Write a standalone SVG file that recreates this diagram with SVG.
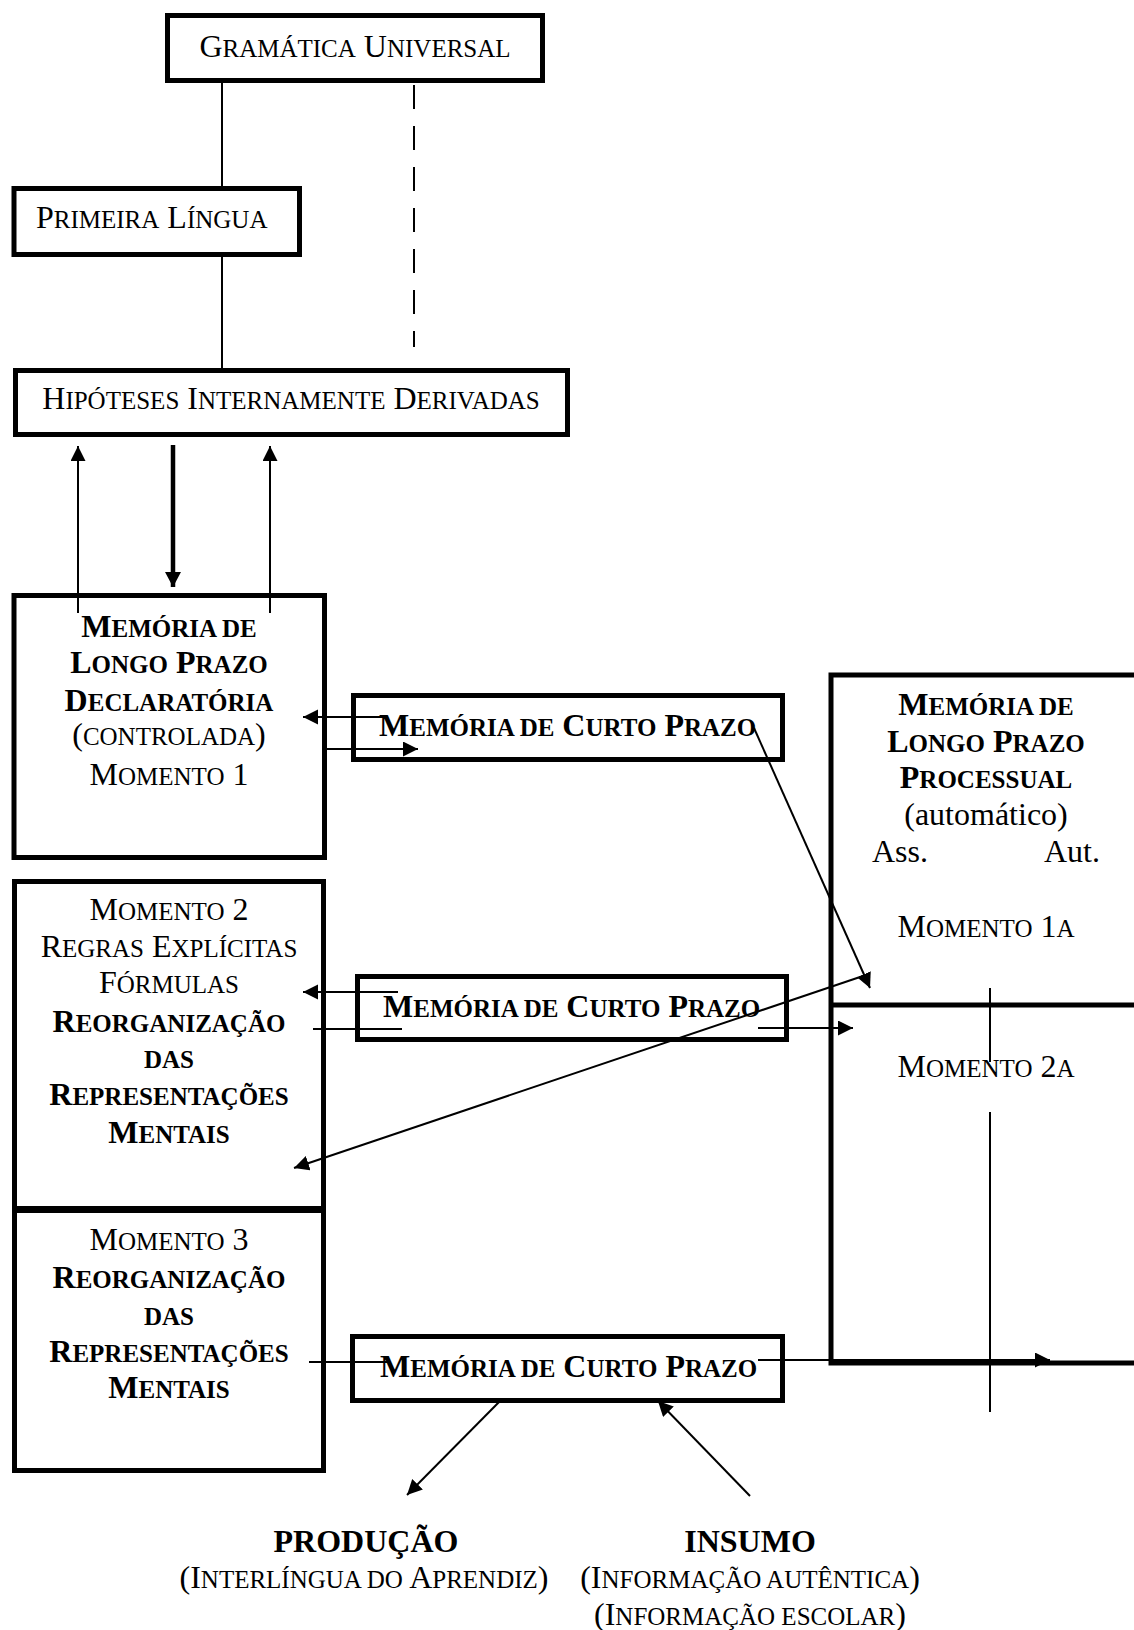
<svg xmlns="http://www.w3.org/2000/svg" width="1134" height="1630" viewBox="0 0 1134 1630">
<style>
text{font-family:"Liberation Serif","Times New Roman",serif;font-size:32px;fill:#000}
.b{font-weight:bold}
.m{text-anchor:middle}
tspan.s{font-size:25px}
.box{fill:#fff;stroke:#000;stroke-width:5}
.ln{stroke:#000;stroke-width:2;fill:none}
.thick{stroke:#000;stroke-width:4.5;fill:none}
.dash{stroke:#000;stroke-width:2;fill:none;stroke-dasharray:24 17}
</style>
<defs>
<marker id="ah" markerUnits="userSpaceOnUse" markerWidth="16" markerHeight="16" refX="15" refY="7.5" orient="auto">
<path d="M0,0 L15,7.5 L0,15 z" fill="#000"/>
</marker>
<marker id="ahb" markerUnits="userSpaceOnUse" markerWidth="17" markerHeight="17" refX="15" refY="8" orient="auto">
<path d="M0,0 L15,8 L0,16 z" fill="#000"/>
</marker>
</defs>
<rect width="1134" height="1630" fill="#fff"/>

<g id="gramatica-universal">
<rect class="box" x="167.5" y="15.5" width="375" height="65"/>
<text class="m" x="355" y="57">G<tspan class="s">RAMÁTICA</tspan> U<tspan class="s">NIVERSAL</tspan></text>
</g>

<g id="primeira-lingua">
<rect class="box" x="14" y="188.5" width="285.5" height="66"/>
<text x="36" y="228">P<tspan class="s">RIMEIRA</tspan> L<tspan class="s">ÍNGUA</tspan></text>
</g>

<g id="hipoteses">
<rect class="box" x="15.5" y="370.5" width="552" height="64"/>
<text class="m" x="291" y="409">H<tspan class="s">IPÓTESES</tspan> I<tspan class="s">NTERNAMENTE</tspan> D<tspan class="s">ERIVADAS</tspan></text>
</g>

<g id="mlp-declaratoria">
<rect class="box" x="14" y="595.5" width="310.5" height="262"/>
<text class="m b" x="169" y="637">M<tspan class="s">EMÓRIA DE</tspan></text>
<text class="m b" x="169" y="673">L<tspan class="s">ONGO</tspan> P<tspan class="s">RAZO</tspan></text>
<text class="m b" x="169" y="711">D<tspan class="s">ECLARATÓRIA</tspan></text>
<text class="m" x="169" y="745">(<tspan class="s">CONTROLADA</tspan>)</text>
<text class="m" x="169" y="785">M<tspan class="s">OMENTO</tspan> 1</text>
</g>

<g id="momento-2">
<rect class="box" x="14.5" y="881.5" width="309" height="327"/>
<text class="m" x="169" y="920">M<tspan class="s">OMENTO</tspan> 2</text>
<text class="m" x="169" y="957">R<tspan class="s">EGRAS</tspan> E<tspan class="s">XPLÍCITAS</tspan></text>
<text class="m" x="169" y="993">F<tspan class="s">ÓRMULAS</tspan></text>
<text class="m b" x="169" y="1032">R<tspan class="s">EORGANIZAÇÃO</tspan></text>
<text class="m b" x="169" y="1068"><tspan class="s">DAS</tspan></text>
<text class="m b" x="169" y="1105">R<tspan class="s">EPRESENTAÇÕES</tspan></text>
<text class="m b" x="169" y="1143">M<tspan class="s">ENTAIS</tspan></text>
</g>

<g id="momento-3">
<rect class="box" x="14.5" y="1210.5" width="309" height="260"/>
<text class="m" x="169" y="1250">M<tspan class="s">OMENTO</tspan> 3</text>
<text class="m b" x="169" y="1288">R<tspan class="s">EORGANIZAÇÃO</tspan></text>
<text class="m b" x="169" y="1325"><tspan class="s">DAS</tspan></text>
<text class="m b" x="169" y="1362">R<tspan class="s">EPRESENTAÇÕES</tspan></text>
<text class="m b" x="169" y="1398">M<tspan class="s">ENTAIS</tspan></text>
</g>

<g id="mlp-processual">
<rect class="box" x="831" y="675" width="330" height="688"/>
<line x1="831" y1="1005" x2="1140" y2="1005" stroke="#000" stroke-width="5"/>
<text class="m b" x="986" y="715">M<tspan class="s">EMÓRIA DE</tspan></text>
<text class="m b" x="986" y="752">L<tspan class="s">ONGO</tspan> P<tspan class="s">RAZO</tspan></text>
<text class="m b" x="986" y="788">P<tspan class="s">ROCESSUAL</tspan></text>
<text class="m" x="986" y="825">(automático)</text>
<text x="872" y="862">Ass.</text>
<text x="1100" y="862" text-anchor="end">Aut.</text>
<text class="m" x="986" y="937">M<tspan class="s">OMENTO</tspan> 1<tspan class="s">A</tspan></text>
<text class="m" x="986" y="1077">M<tspan class="s">OMENTO</tspan> 2<tspan class="s">A</tspan></text>
<line class="ln" x1="990" y1="988" x2="990" y2="1062"/>
<line class="ln" x1="990" y1="1112" x2="990" y2="1412"/>
</g>

<g id="mcp-1">
<rect class="box" x="353.5" y="695.5" width="429" height="64"/>
<text class="b" x="379" y="736">M<tspan class="s">EMÓRIA DE</tspan> C<tspan class="s">URTO</tspan> P<tspan class="s">RAZO</tspan></text>
</g>

<g id="mcp-2">
<rect class="box" x="357.5" y="976.5" width="429" height="63"/>
<text class="b" x="383" y="1017">M<tspan class="s">EMÓRIA DE</tspan> C<tspan class="s">URTO</tspan> P<tspan class="s">RAZO</tspan></text>
</g>

<g id="mcp-3">
<rect class="box" x="352.5" y="1336.5" width="430" height="64"/>
<text class="b" x="380" y="1377">M<tspan class="s">EMÓRIA DE</tspan> C<tspan class="s">URTO</tspan> P<tspan class="s">RAZO</tspan></text>
</g>

<g id="producao">
<text class="m b" x="366" y="1552">PRODUÇÃO</text>
<text class="m" x="364" y="1588">(I<tspan class="s">NTERLÍNGUA DO</tspan> A<tspan class="s">PRENDIZ</tspan>)</text>
</g>

<g id="insumo">
<text class="m b" x="750" y="1552">INSUMO</text>
<text class="m" x="750" y="1588">(I<tspan class="s">NFORMAÇÃO AUTÊNTICA</tspan>)</text>
<text class="m" x="750" y="1625">(I<tspan class="s">NFORMAÇÃO ESCOLAR</tspan>)</text>
</g>

<g id="connectors">
<line class="ln" x1="222" y1="83" x2="222" y2="186"/>
<line class="ln" x1="222" y1="257" x2="222" y2="368"/>
<line class="dash" x1="414" y1="85" x2="414" y2="347"/>
<line class="ln" x1="78" y1="613" x2="78" y2="446" marker-end="url(#ah)"/>
<line class="thick" x1="173" y1="445" x2="173" y2="587" marker-end="url(#ahb)"/>
<line class="ln" x1="270" y1="613" x2="270" y2="446" marker-end="url(#ah)"/>
<line class="ln" x1="388" y1="717" x2="303" y2="717" marker-end="url(#ah)"/>
<line class="ln" x1="323" y1="749" x2="418" y2="749" marker-end="url(#ah)"/>
<line class="ln" x1="398" y1="992" x2="303" y2="992" marker-end="url(#ah)"/>
<line class="ln" x1="313" y1="1029" x2="402" y2="1029"/>
<line class="ln" x1="758" y1="1028" x2="853" y2="1028" marker-end="url(#ah)"/>
<line class="ln" x1="754" y1="728" x2="870" y2="988" marker-end="url(#ah)"/>
<line class="ln" x1="863" y1="976" x2="294" y2="1168" marker-end="url(#ah)"/>
<line class="ln" x1="309" y1="1362" x2="388" y2="1362"/>
<line class="ln" x1="758" y1="1360" x2="1050" y2="1360" marker-end="url(#ah)"/>
<line class="ln" x1="502" y1="1399" x2="407" y2="1495" marker-end="url(#ah)"/>
<line class="ln" x1="750" y1="1496" x2="658" y2="1401" marker-end="url(#ah)"/>
</g>
</svg>
